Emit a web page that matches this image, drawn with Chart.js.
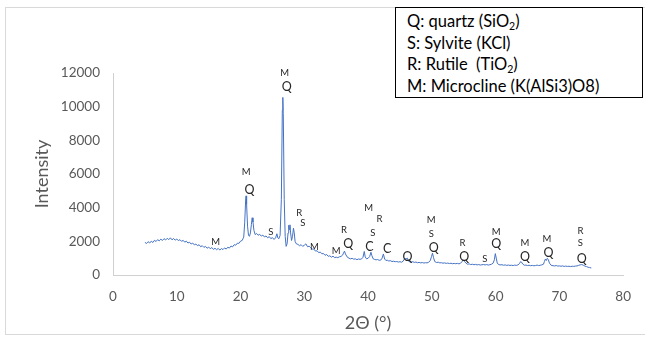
<!DOCTYPE html>
<html>
<head>
<meta charset="utf-8">
<script src="https://cdn.jsdelivr.net/npm/chart.js@4.4.0/dist/chart.umd.min.js"></script>
<style>
  html, body { margin: 0; padding: 0; background: #fff; }
  body { width: 645px; height: 338px; position: relative; overflow: hidden; font-family: Lato, sans-serif; }
  #frame { position: absolute; left: 5px; top: 7px; width: 660px; height: 328px; border: 1px solid #d9d9d9; box-sizing: border-box; }
  #wrap { position: absolute; left: 0; top: 0; width: 645px; height: 338px; }
  #key { position: absolute; left: 395px; top: 7px; width: 248px; height: 91px; border: 1.5px solid #000; background: #fff;
         box-sizing: border-box; padding: 3px 0 0 11px; font-size: 16.5px; line-height: 21.7px; color: #000; }
  #key sub { font-size: 10.5px; line-height: 0; vertical-align: -3px; }
</style>
</head>
<body>
<div id="frame"></div>
<div id="wrap"><canvas id="myChart" width="645" height="338"></canvas></div>
<div id="key">
  <div>Q: quartz (SiO<sub>2</sub>)</div>
  <div>S: Sylvite (KCl)</div>
  <div>R: Rutile&nbsp; (TiO<sub>2</sub>)</div>
  <div>M: Microcline (K(AlSi3)O8)</div>
</div>
<script>
// scan (2theta in degrees / counts)
const twoTheta = [
  5.0, 5.25, 5.5, 5.75, 6.0, 6.25, 6.5, 6.75,
  7.0, 7.25, 7.5, 7.75, 8.0, 8.25, 8.5, 8.75,
  9.0, 9.25, 9.5, 9.75, 10.0, 10.25, 10.5, 10.75,
  11.0, 11.25, 11.5, 11.75, 12.0, 12.25, 12.5, 12.75,
  13.0, 13.25, 13.5, 13.75, 14.0, 14.25, 14.5, 14.75,
  15.0, 15.25, 15.5, 15.75, 16.0, 16.25, 16.5, 16.75,
  17.0, 17.25, 17.5, 17.75, 18.0, 18.25, 18.5, 18.75,
  19.0, 19.25, 19.5, 19.75, 20.0, 20.25, 20.5, 20.65,
  20.8, 20.87, 20.95, 21.1, 21.25, 21.4, 21.55, 21.7,
  21.82, 21.95, 22.1, 22.3, 22.5, 22.75, 23.0, 23.25,
  23.5, 23.75, 24.0, 24.25, 24.5, 24.75, 25.0, 25.25,
  25.5, 25.7, 25.85, 26.0, 26.2, 26.4, 26.55, 26.63,
  26.7, 26.85, 27.0, 27.15, 27.3, 27.45, 27.55, 27.65,
  27.75, 27.85, 28.0, 28.15, 28.3, 28.42, 28.55, 28.75,
  29.0, 29.25, 29.5, 29.75, 30.0, 30.25, 30.5, 30.75,
  31.0, 31.25, 31.5, 31.75, 32.0, 32.25, 32.5, 32.75,
  33.0, 33.25, 33.5, 33.75, 34.0, 34.25, 34.5, 34.75,
  35.0, 35.25, 35.5, 35.75, 36.0, 36.15, 36.3, 36.45,
  36.7, 37.0, 37.25, 37.5, 37.75, 38.0, 38.25, 38.5,
  38.75, 39.0, 39.2, 39.4, 39.55, 39.75, 40.0, 40.25,
  40.45, 40.6, 40.8, 41.0, 41.25, 41.5, 41.75, 42.0,
  42.2, 42.4, 42.6, 42.8, 43.0, 43.25, 43.5, 43.75,
  44.0, 44.25, 44.5, 44.75, 45.0, 45.25, 45.5, 45.75,
  45.95, 46.15, 46.4, 46.75, 47.0, 47.25, 47.5, 47.75,
  48.0, 48.25, 48.5, 48.75, 49.0, 49.25, 49.5, 49.75,
  49.95, 50.1, 50.25, 50.45, 50.75, 51.0, 51.25, 51.5,
  51.75, 52.0, 52.25, 52.5, 52.75, 53.0, 53.25, 53.5,
  53.75, 54.0, 54.25, 54.5, 54.7, 54.9, 55.1, 55.35,
  55.6, 55.85, 56.1, 56.35, 56.6, 56.85, 57.1, 57.35,
  57.6, 57.85, 58.1, 58.35, 58.6, 58.85, 59.1, 59.35,
  59.6, 59.8, 59.95, 60.1, 60.25, 60.45, 60.7, 61.0,
  61.25, 61.5, 61.75, 62.0, 62.25, 62.5, 62.75, 63.0,
  63.25, 63.5, 63.75, 63.9, 64.05, 64.25, 64.5, 64.75,
  65.0, 65.25, 65.5, 65.75, 66.0, 66.25, 66.5, 66.75,
  67.0, 67.25, 67.5, 67.65, 67.8, 67.95, 68.1, 68.25,
  68.45, 68.7, 69.0, 69.25, 69.5, 69.75, 70.0, 70.25,
  70.5, 70.75, 71.0, 71.25, 71.5, 71.75, 72.0, 72.25,
  72.5, 72.75, 73.0, 73.25, 73.5, 73.75, 74.0, 74.25,
  74.5, 74.75, 75.0
];
const intensity = [
  1940, 1870, 1980, 1900, 2010, 1930, 2060, 1990,
  2100, 2030, 2130, 2050, 2160, 2080, 2180, 2100,
  2210, 2090, 2170, 2070, 2140, 2040, 2100, 2000,
  2060, 1950, 2010, 1900, 1950, 1840, 1900, 1790,
  1840, 1740, 1800, 1680, 1740, 1640, 1700, 1590,
  1660, 1560, 1630, 1520, 1590, 1500, 1580, 1480,
  1570, 1510, 1610, 1540, 1650, 1600, 1720, 1670,
  1800, 1770, 1890, 1880, 2010, 2050, 2250, 3100,
  4450, 4700, 4200, 2900, 2350, 2300, 2500, 3000,
  3400, 3150, 2650, 2400, 2470, 2360, 2420, 2310,
  2370, 2260, 2320, 2210, 2280, 2160, 2220, 2110,
  2210, 2450, 2200, 2150, 2350, 4500, 9800, 10550,
  9600, 4500, 2300, 1700, 1850, 2500, 2950, 2700,
  2980, 2500, 2050, 2300, 2780, 2500, 2000, 1850,
  1820, 1740, 1800, 1700, 1770, 1850, 1680, 1710,
  1620, 1540, 1540, 1420, 1440, 1330, 1360, 1260,
  1280, 1170, 1220, 1110, 1140, 1060, 1120, 1030,
  1060, 1030, 1080, 1100, 1180, 1300, 1420, 1250,
  1080, 1000, 960, 990, 940, 960, 910, 950,
  930, 960, 1050, 1400, 1080, 960, 990, 1100,
  1350, 1150, 960, 930, 900, 920, 870, 890,
  1000, 1250, 950, 860, 880, 830, 850, 800,
  820, 790, 800, 770, 790, 760, 820, 980,
  950, 1000, 800, 770, 790, 750, 770, 730,
  750, 720, 740, 710, 730, 720, 760, 850,
  1100, 1300, 1050, 800, 740, 760, 720, 730,
  700, 720, 690, 710, 680, 700, 670, 690,
  670, 690, 660, 700, 780, 900, 820, 700,
  640, 660, 620, 640, 610, 630, 600, 620,
  590, 610, 620, 600, 620, 590, 610, 640,
  700, 900, 1270, 1000, 720, 620, 600, 610,
  580, 600, 570, 590, 570, 580, 560, 590,
  570, 600, 680, 790, 770, 650, 580, 590,
  560, 580, 550, 570, 550, 560, 590, 560,
  580, 600, 640, 800, 950, 860, 990, 920,
  700, 580, 550, 540, 560, 530, 540, 520,
  540, 510, 530, 510, 520, 500, 520, 510,
  530, 540, 570, 600, 620, 580, 530, 500,
  460, 440, 420
];

// phase letters over the peaks, placed in data units
const peakLetters = ['M', 'M', 'Q', 'S', 'M', 'Q', 'R', 'S', 'M', 'M', 'R', 'Q',
  'M', 'R', 'S', 'C', 'C', 'Q', 'M', 'S', 'Q', 'R', 'Q', 'S',
  'M', 'Q', 'M', 'Q', 'M', 'Q', 'R', 'S', 'Q'];
const peakTheta = [16.1, 20.9, 21.4, 24.75, 26.9, 27.25, 29.2, 29.75, 31.6, 35.0, 36.2, 36.9,
  40.1, 41.8, 40.75, 40.2, 43.0, 46.2, 49.9, 49.9, 50.3, 54.8, 55.07, 58.3,
  60.1, 60.1, 64.6, 64.6, 68.06, 68.3, 73.3, 73.3, 73.5];
const peakLevel = [1980, 6140, 5050, 2540, 12020, 11150, 3700, 3110, 1680, 1400, 2670, 1840,
  3960, 3330, 2480, 1680, 1530, 1050, 3270, 2420, 1590, 1880, 1050, 930,
  2570, 1840, 1880, 1050, 2140, 1330, 2630, 1880, 950];

const xTicks = [0, 80, 10];
const yTicks = [0, 12000, 2000];

const peakText = {
  id: 'peakText',
  afterDatasetsDraw(chart) {
    const { ctx, scales } = chart;
    ctx.save();
    ctx.fillStyle = '#262626';
    ctx.textAlign = 'center';
    ctx.textBaseline = 'middle';
    peakLetters.forEach((t, i) => {
      ctx.font = (t === 'Q' || t === 'C') ? '12.5px Lato' : '9.5px Lato';
      ctx.fillText(t, scales.x.getPixelForValue(peakTheta[i]), scales.y.getPixelForValue(peakLevel[i]));
    });
    ctx.restore();
  }
};

var myChart = document.getElementById('myChart').getContext('2d');
new Chart(myChart, {
  type: 'line',
  data: {
    datasets: [{
      data: twoTheta.map((x, i) => ({ x: x, y: intensity[i] })),
      borderColor: '#4472C4',
      borderWidth: 1,
      pointRadius: 0,
      tension: 0
    }]
  },
  options: {
    responsive: false,
    animation: false,
    layout: { padding: { top: 73, right: 19, left: 0, bottom: 0 } },
    plugins: { legend: { display: false }, tooltip: { enabled: false } },
    scales: {
      x: {
        type: 'linear',
        min: xTicks[0], max: xTicks[1],
        grid: { display: false, drawTicks: false },
        border: { color: '#d0d0d0', width: 1 },
        ticks: { stepSize: xTicks[2], padding: 14, color: '#595959', font: { family: 'Lato', size: 13.5 } },
        title: { display: true, text: '2Θ (°)', color: '#595959', font: { family: 'Lato', size: 18 }, padding: { top: 0, bottom: 4 } },
        afterFit(s) { s.height = 63; }
      },
      y: {
        min: yTicks[0], max: yTicks[1],
        grid: { display: false, drawTicks: false },
        border: { color: '#d0d0d0', width: 1 },
        ticks: { stepSize: yTicks[2], padding: 13, color: '#595959', font: { family: 'Lato', size: 13.5 },
                 callback: (v) => String(v) },
        title: { display: true, text: 'Intensity', color: '#595959', font: { family: 'Lato', size: 18 }, padding: { top: 31, bottom: 0 } },
        afterFit(s) { s.width = 113; }
      }
    }
  },
  plugins: [peakText]
});
</script>
</body>
</html>
